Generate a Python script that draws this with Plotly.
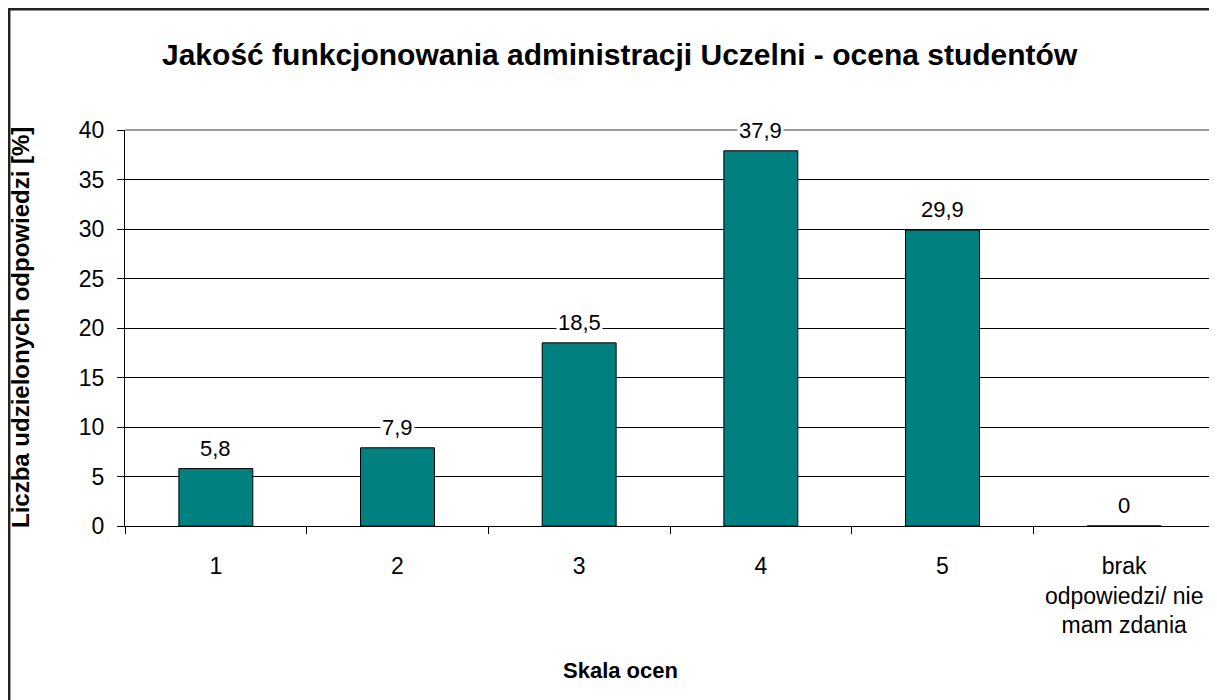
import plotly.graph_objects as go

categories = ["1", "2", "3", "4", "5", "brak<br>odpowiedzi/ nie<br>mam zdania"]
values = [5.8, 7.9, 18.5, 37.9, 29.9, 0]
title_text = "Jakość funkcjonowania administracji Uczelni - ocena studentów"
x_title = "Skala ocen"
y_title = "Liczba udzielonych odpowiedzi [%]"
y_ticks = [0, 5, 10, 15, 20, 25, 30, 35, 40]

FONT = "Liberation Sans, Arial, sans-serif"
# the page body adds an 8px offset; figure coordinates below are page - 8
W, H = 1217, 700
L, T = 117, 122
PLOT_RIGHT, PLOT_BOTTOM = 1207, 518
R, B = W - PLOT_RIGHT, H - PLOT_BOTTOM
pw, ph = PLOT_RIGHT - L, PLOT_BOTTOM - T


def px_x(px):
    return (px - L) / pw


def px_y(py):
    return (PLOT_BOTTOM - py) / ph


def fmt(v):
    s = f"{v:.1f}".replace(".", ",")
    if s.endswith(",0"):
        s = s[:-2]
    return s


fig = go.Figure()
fig.add_trace(go.Bar(
    x=categories, y=values,
    marker=dict(color="#008080", line=dict(color="black", width=1)),
    hoverinfo="skip",
))

annotations = []
for i, v in enumerate(values):
    annotations.append(dict(
        x=i, y=v, xref="x", yref="y", text=fmt(v), showarrow=False,
        yanchor="bottom", yshift=6, bgcolor="white", borderpad=1,
        font=dict(family=FONT, size=22, color="black"),
    ))

annotations.append(dict(
    x=px_x(612), y=px_y(47), xref="paper", yref="paper",
    text="<b>" + title_text + "</b>", showarrow=False,
    font=dict(family=FONT, size=30, color="black"),
    xanchor="center", yanchor="middle",
))
annotations.append(dict(
    x=px_x(612), y=px_y(662), xref="paper", yref="paper",
    text="<b>" + x_title + "</b>", showarrow=False,
    font=dict(family=FONT, size=22, color="black"),
    xanchor="center", yanchor="middle",
))
annotations.append(dict(
    x=px_x(12), y=0.5, xref="paper", yref="paper",
    text="<b>" + y_title + "</b>", showarrow=False, textangle=-90,
    font=dict(family=FONT, size=24, color="black"),
    xanchor="center", yanchor="middle",
))

shapes = [
    # plot area top and right edges (gray)
    dict(type="line", xref="paper", yref="paper", x0=0, x1=1, y0=1, y1=1,
         line=dict(color="#808080", width=1.5), layer="above"),
    dict(type="line", xref="paper", yref="paper", x0=1, x1=1, y0=0, y1=1,
         line=dict(color="#808080", width=1.5), layer="above"),
    # outer chart border (top and left)
    dict(type="line", xref="paper", yref="paper", x0=px_x(0), x1=px_x(W),
         y0=px_y(1.2), y1=px_y(1.2), line=dict(color="#222222", width=2.5), layer="above"),
    dict(type="line", xref="paper", yref="paper", x0=px_x(1.2), x1=px_x(1.2),
         y0=px_y(0), y1=px_y(H), line=dict(color="#222222", width=2.5), layer="above"),
]

fig.update_layout(
    width=W, height=H,
    margin=dict(l=L, r=R, t=T, b=B, pad=0),
    paper_bgcolor="white", plot_bgcolor="white",
    showlegend=False,
    bargap=0.593,
    font=dict(family=FONT, size=23, color="black"),
    annotations=annotations,
    shapes=shapes,
    xaxis=dict(
        type="category", tickson="boundaries", ticks="outside", ticklen=7,
        tickcolor="black", tickwidth=1, showline=True, linecolor="black",
        linewidth=1, showgrid=False, tickfont=dict(family=FONT, size=23),
        ticklabelstandoff=19,
    ),
    yaxis=dict(
        range=[0, 40], tickvals=y_ticks, ticks="outside", ticklen=7,
        tickcolor="black", tickwidth=1, showline=True, linecolor="black",
        linewidth=1, showgrid=True, gridcolor="black", gridwidth=1,
        zeroline=False, tickfont=dict(family=FONT, size=23),
        ticklabelstandoff=8,
    ),
)

fig.write_html("out.html")
